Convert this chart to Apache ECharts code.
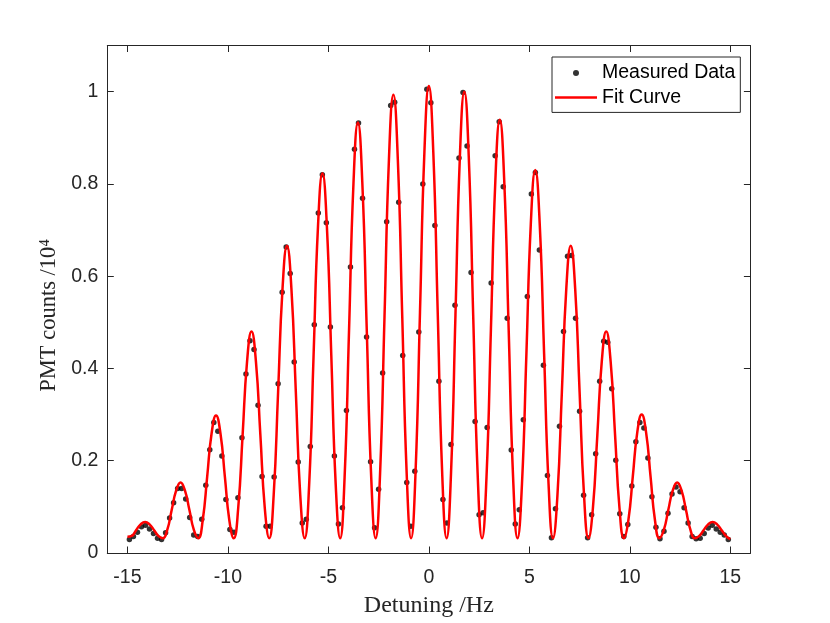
<!DOCTYPE html>
<html>
<head>
<meta charset="utf-8">
<script src="https://cdn.jsdelivr.net/npm/echarts@6/dist/echarts.min.js"></script>
<style>html,body{margin:0;padding:0;background:#fff}#c{width:830px;height:623px}</style>
</head>
<body>
<div id="c"></div>
<script>
// Measured data (detuning in Hz, PMT counts in units of 10^4)
const dotX = [-14.9,-14.7,-14.5,-14.3,-14.1,-13.9,-13.7,-13.5,-13.3,-13.1,
  -12.9,-12.7,-12.5,-12.3,-12.1,-11.9,-11.7,-11.5,-11.3,-11.1,
  -10.9,-10.7,-10.5,-10.3,-10.1,-9.9,-9.7,-9.5,-9.3,-9.1,
  -8.9,-8.7,-8.5,-8.3,-8.1,-7.9,-7.7,-7.5,-7.3,-7.1,
  -6.9,-6.7,-6.5,-6.3,-6.1,-5.9,-5.7,-5.5,-5.3,-5.1,
  -4.9,-4.7,-4.5,-4.3,-4.1,-3.9,-3.7,-3.5,-3.3,-3.1,
  -2.9,-2.7,-2.5,-2.3,-2.1,-1.9,-1.7,-1.5,-1.3,-1.1,
  -0.9,-0.7,-0.5,-0.3,-0.1,0.1,0.3,0.5,0.7,0.9,
  1.1,1.3,1.5,1.7,1.9,2.1,2.3,2.5,2.7,2.9,
  3.1,3.3,3.5,3.7,3.9,4.1,4.3,4.5,4.7,4.9,
  5.1,5.3,5.5,5.7,5.9,6.1,6.3,6.5,6.7,6.9,
  7.1,7.3,7.5,7.7,7.9,8.1,8.3,8.5,8.7,8.9,
  9.1,9.3,9.5,9.7,9.9,10.1,10.3,10.5,10.7,10.9,
  11.1,11.3,11.5,11.7,11.9,12.1,12.3,12.5,12.7,12.9,
  13.1,13.3,13.5,13.7,13.9,14.1,14.3,14.5,14.7,14.9];
const dotY = [0.029,0.036,0.045,0.057,0.060,0.052,0.042,0.032,0.029,0.044,
  0.076,0.109,0.140,0.140,0.117,0.077,0.039,0.036,0.073,0.147,
  0.224,0.283,0.264,0.210,0.116,0.051,0.045,0.120,0.250,0.388,
  0.460,0.441,0.320,0.166,0.058,0.058,0.165,0.367,0.565,0.663,
  0.606,0.414,0.197,0.065,0.073,0.231,0.495,0.737,0.820,0.716,
  0.490,0.210,0.063,0.098,0.309,0.620,0.875,0.932,0.769,0.468,
  0.198,0.055,0.138,0.390,0.718,0.970,0.977,0.760,0.428,0.153,
  0.058,0.177,0.479,0.800,1.005,0.976,0.710,0.372,0.116,0.065,
  0.235,0.537,0.856,0.998,0.882,0.608,0.285,0.083,0.087,0.272,
  0.585,0.861,0.935,0.794,0.509,0.223,0.063,0.094,0.289,0.556,
  0.778,0.825,0.657,0.407,0.168,0.033,0.096,0.275,0.480,0.643,
  0.645,0.509,0.307,0.125,0.033,0.083,0.215,0.372,0.459,0.457,
  0.356,0.201,0.085,0.036,0.062,0.145,0.241,0.283,0.271,0.206,
  0.122,0.056,0.031,0.047,0.086,0.128,0.143,0.133,0.098,0.065,
  0.036,0.031,0.032,0.042,0.054,0.060,0.052,0.045,0.039,0.029];

// Fit curve
const fitX = [-15,-14.782,-14.561,-14.341,-14.12,-13.899,-13.679,-13.458,
  -13.238,-13.017,-12.796,-12.576,-12.355,-12.134,-11.914,-11.693,
  -11.473,-11.252,-11.031,-10.811,-10.59,-10.369,-10.149,-9.928,
  -9.708,-9.487,-9.266,-9.046,-8.825,-8.604,-8.384,-8.163,
  -7.943,-7.722,-7.501,-7.281,-7.06,-6.839,-6.619,-6.398,
  -6.178,-5.957,-5.736,-5.516,-5.295,-5.074,-4.854,-4.633,
  -4.413,-4.192,-3.971,-3.751,-3.53,-3.309,-3.089,-2.868,
  -2.648,-2.427,-2.206,-1.986,-1.765,-1.544,-1.324,-1.103,
  -0.883,-0.662,-0.441,-0.221,0,0.221,0.441,0.662,
  0.883,1.103,1.324,1.544,1.765,1.986,2.206,2.427,
  2.648,2.868,3.089,3.309,3.53,3.751,3.971,4.192,
  4.413,4.633,4.854,5.074,5.295,5.516,5.736,5.957,
  6.178,6.398,6.619,6.839,7.06,7.281,7.501,7.722,
  7.943,8.163,8.384,8.604,8.825,9.046,9.266,9.487,
  9.708,9.928,10.149,10.369,10.59,10.811,11.031,11.252,
  11.473,11.693,11.914,12.134,12.355,12.576,12.796,13.017,
  13.238,13.458,13.679,13.899,14.12,14.341,14.561,14.782,15];
const fitY = [0.035,0.037,0.050,0.062,0.067,0.062,0.050,0.037,
  0.032,0.050,0.093,0.135,0.153,0.135,0.093,0.050,
  0.032,0.071,0.165,0.259,0.298,0.259,0.165,0.071,
  0.032,0.097,0.256,0.415,0.480,0.415,0.256,0.097,
  0.032,0.125,0.349,0.573,0.666,0.573,0.349,0.125,
  0.032,0.147,0.428,0.708,0.823,0.708,0.428,0.147,
  0.032,0.164,0.483,0.801,0.933,0.801,0.483,0.164,
  0.032,0.172,0.513,0.853,0.993,0.853,0.513,0.172,
  0.032,0.175,0.522,0.869,1.012,0.869,0.522,0.175,
  0.032,0.173,0.516,0.859,1.000,0.859,0.516,0.173,
  0.032,0.164,0.486,0.807,0.939,0.807,0.486,0.164,
  0.032,0.149,0.431,0.714,0.830,0.714,0.431,0.149,
  0.032,0.125,0.349,0.573,0.666,0.573,0.349,0.125,
  0.032,0.097,0.256,0.415,0.480,0.415,0.256,0.097,
  0.032,0.071,0.166,0.261,0.300,0.261,0.166,0.071,
  0.032,0.050,0.093,0.135,0.153,0.135,0.093,0.050,
  0.032,0.037,0.050,0.062,0.067,0.062,0.050,0.037,0.030];

const xTicks = [-15,-10,-5,0,5,10,15];
const yTicks = [0,0.2,0.4,0.6,0.8,1];
const seriesNames = ['Measured Data','Fit Curve'];
const xTitle = 'Detuning /Hz';
const yTitle = 'PMT counts /10\u2074';

const axisColor = '#262626';
const sans = '"Liberation Sans", Arial, Helvetica, sans-serif';
const serif = '"Liberation Serif", "Times New Roman", serif';

const chart = echarts.init(document.getElementById('c'), null, {renderer:'canvas'});

function xAx(pos, show){
  return {
    type:'value', position:pos, min:-16, max:16,
    axisLine:{show:true, onZero:false, lineStyle:{color:axisColor, width:1}},
    axisTick:{show:true, inside:true, length:6.5, customValues:xTicks, lineStyle:{color:axisColor, width:1}},
    axisLabel:{show:show, customValues:xTicks, color:axisColor, fontFamily:sans, fontSize:19.5, margin:15},
    splitLine:{show:false},
    name: show ? xTitle : '', nameLocation:'middle', nameGap:41,
    nameTextStyle:{fontFamily:serif, fontSize:24, color:axisColor}
  };
}
function yAx(pos, show){
  return {
    type:'value', position:pos, min:0, max:1.1,
    axisLine:{show:true, onZero:false, lineStyle:{color:axisColor, width:1}},
    axisTick:{show:true, inside:true, length:6.5, customValues:yTicks, lineStyle:{color:axisColor, width:1}},
    axisLabel:{show:show, customValues:yTicks, color:axisColor, fontFamily:sans, fontSize:19.5, margin:9},
    splitLine:{show:false},
    name: show ? yTitle : '', nameLocation:'middle', nameGap:45, nameRotate:90,
    nameTextStyle:{fontFamily:serif, fontSize:22.5, color:axisColor, padding:[0,32,0,0]}
  };
}

chart.setOption({
  backgroundColor:'#fff',
  animation:false,
  grid:{left:107.3, right:79.6, top:45.5, bottom:69.5, containLabel:false},
  xAxis:[xAx('bottom', true), xAx('top', false)],
  yAxis:[yAx('left', true), yAx('right', false)],
  legend:{
    orient:'vertical', left:552, top:57,
    padding:[6,5,5,3], itemWidth:42, itemHeight:6, itemGap:4.4,
    borderColor:axisColor, borderWidth:1, borderRadius:0, backgroundColor:'#fff',
    textStyle:{fontFamily:sans, fontSize:19.5, color:'#000', lineHeight:20},
    data:[
      {name:seriesNames[0], icon:'circle'},
      {name:seriesNames[1], icon:'path://M0,0 L42,0 L42,2.5 L0,2.5 Z', itemStyle:{color:'#ff0000', borderWidth:0}}
    ]
  },
  series:[
    {
      name:seriesNames[0], type:'scatter', xAxisIndex:0, yAxisIndex:0,
      symbol:'circle', symbolSize:5.5,
      itemStyle:{color:'#000'},
      data: dotX.map((x,i)=>[x, dotY[i]]), z:2
    },
    {
      name:seriesNames[1], type:'line', xAxisIndex:0, yAxisIndex:0,
      symbol:'none', showSymbol:false, smooth:0.5,
      lineStyle:{color:'#ff0000', width:2.5},
      itemStyle:{color:'#ff0000'},
      data: fitX.map((x,i)=>[x, fitY[i]]), z:3
    }
  ]
});
</script>
</body>
</html>
